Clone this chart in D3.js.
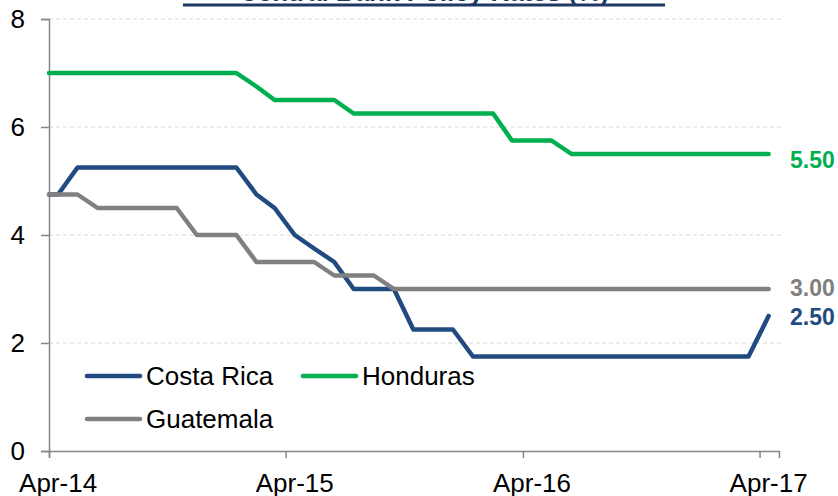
<!DOCTYPE html>
<html lang="en">

<head>
    <meta charset="UTF-8">
    <title>Central Bank Policy Rates</title>
    <style>
        body {
            margin: 0;
            background-color: #fff;
            font-family: Arial, 'Liberation Sans', sans-serif;
        }

        svg {
            display: block;
        }
    </style>
    <script src="https://d3js.org/d3.v7.min.js"></script>
</head>

<body>
    <div id="chart"></div>
    <script>
        // first point is the start of the axis, the rest are mid-month readings
        const dates = [
            "2014-04-01", "2014-04-15", "2014-05-15", "2014-06-15", "2014-07-15", "2014-08-15",
            "2014-09-15", "2014-10-15", "2014-11-15", "2014-12-15", "2015-01-15", "2015-02-15",
            "2015-03-15", "2015-04-15", "2015-05-15", "2015-06-15", "2015-07-15", "2015-08-15",
            "2015-09-15", "2015-10-15", "2015-11-15", "2015-12-15", "2016-01-15", "2016-02-15",
            "2016-03-15", "2016-04-15", "2016-05-15", "2016-06-15", "2016-07-15", "2016-08-15",
            "2016-09-15", "2016-10-15", "2016-11-15", "2016-12-15", "2017-01-15", "2017-02-15",
            "2017-03-15", "2017-04-15"
        ];

        const costaRica = [
            4.75, 4.75, 5.25, 5.25, 5.25, 5.25, 5.25, 5.25, 5.25, 5.25,
            5.25, 4.75, 4.5, 4.0, 3.75, 3.5, 3.0, 3.0, 3.0, 2.25,
            2.25, 2.25, 1.75, 1.75, 1.75, 1.75, 1.75, 1.75, 1.75, 1.75,
            1.75, 1.75, 1.75, 1.75, 1.75, 1.75, 1.75, 2.5
        ];

        const honduras = [
            7.0, 7.0, 7.0, 7.0, 7.0, 7.0, 7.0, 7.0, 7.0, 7.0,
            7.0, 6.75, 6.5, 6.5, 6.5, 6.5, 6.25, 6.25, 6.25, 6.25,
            6.25, 6.25, 6.25, 6.25, 5.75, 5.75, 5.75, 5.5, 5.5, 5.5,
            5.5, 5.5, 5.5, 5.5, 5.5, 5.5, 5.5, 5.5
        ];

        const guatemala = [
            4.75, 4.75, 4.75, 4.5, 4.5, 4.5, 4.5, 4.5, 4.0, 4.0,
            4.0, 3.5, 3.5, 3.5, 3.5, 3.25, 3.25, 3.25, 3.0, 3.0,
            3.0, 3.0, 3.0, 3.0, 3.0, 3.0, 3.0, 3.0, 3.0, 3.0,
            3.0, 3.0, 3.0, 3.0, 3.0, 3.0, 3.0, 3.0
        ];

        const seriesNames = ["Costa Rica", "Honduras", "Guatemala"];
        const seriesValues = [costaRica, honduras, guatemala];
        const seriesColors = ["#214B80", "#00B050", "#808080"];
        const endLabels = ["2.50", "5.50", "3.00"];

        const yTicks = [0, 2, 4, 6, 8];
        const xTickDates = ["2014-04-01", "2015-04-01", "2016-04-01", "2017-04-01"];
        const xTickLabels = ["Apr-14", "Apr-15", "Apr-16", "Apr-17"];

        const title = "Central Bank Policy Rates (%)";

        const width = 838;
        const height = 496;
        const parse = d3.timeParse("%Y-%m-%d");

        const x = d3.scaleTime()
            .domain([parse("2014-04-01"), parse("2017-05-01")])
            .range([49, 779]);

        const y = d3.scaleLinear()
            .domain([0, 8])
            .range([451, 19]);

        const svg = d3.select("#chart").append("svg")
            .attr("width", width)
            .attr("height", height)
            .style("font-family", "Arial, 'Liberation Sans', sans-serif");

        // title (mostly cut off at the top of the picture)
        svg.append("text")
            .attr("x", 424)
            .attr("y", 1)
            .attr("text-anchor", "middle")
            .attr("font-size", 26)
            .attr("font-weight", "bold")
            .attr("fill", "#1F3864")
            .text(title);

        svg.append("line")
            .attr("x1", 183)
            .attr("x2", 665)
            .attr("y1", 5)
            .attr("y2", 5)
            .attr("stroke", "#1F3864")
            .attr("stroke-width", 3);

        // gridlines
        svg.append("g")
            .selectAll("line")
            .data(yTicks.filter(d => d > 0))
            .join("line")
            .attr("x1", 49)
            .attr("x2", 783)
            .attr("y1", d => y(d))
            .attr("y2", d => y(d))
            .attr("stroke", "#D9D9D9")
            .attr("stroke-width", 1)
            .attr("stroke-dasharray", "4,3");

        // y axis
        const yAxis = svg.append("g")
            .attr("transform", "translate(49,0)")
            .call(d3.axisLeft(y).tickValues(yTicks).tickSize(8).tickPadding(16));

        yAxis.select(".domain").attr("stroke", "#868686").attr("stroke-width", 1.5);
        yAxis.selectAll(".tick line").attr("stroke", "#868686").attr("stroke-width", 1.5);
        yAxis.selectAll(".tick text")
            .attr("font-size", 26)
            .attr("fill", "#000")
            .style("font-family", "Arial, 'Liberation Sans', sans-serif");

        // x axis
        const xAxis = svg.append("g")
            .attr("transform", "translate(0,451)")
            .call(d3.axisBottom(x).tickValues(xTickDates.map(parse)).tickSize(7).tickFormat(""));

        xAxis.select(".domain").attr("stroke", "#868686").attr("stroke-width", 1.5);
        xAxis.selectAll(".tick line").attr("stroke", "#868686").attr("stroke-width", 1.5);

        svg.append("g")
            .selectAll("text")
            .data(xTickDates)
            .join("text")
            .attr("x", d => x(d3.timeDay.offset(parse(d), 14)))
            .attr("y", 492)
            .attr("text-anchor", "middle")
            .attr("font-size", 26)
            .attr("fill", "#000")
            .text((d, i) => xTickLabels[i]);

        // lines
        const line = d3.line()
            .x((d, i) => x(parse(dates[i])))
            .y(d => y(d));

        svg.append("g")
            .selectAll("path")
            .data(seriesValues)
            .join("path")
            .attr("d", line)
            .attr("fill", "none")
            .attr("stroke", (d, i) => seriesColors[i])
            .attr("stroke-width", 4.5)
            .attr("stroke-linejoin", "round")
            .attr("stroke-linecap", "round");

        // end labels, nudged so they do not collide
        const endOffsets = ["0.4em", "0.6em", "0.3em"];

        svg.append("g")
            .selectAll("text")
            .data(seriesValues)
            .join("text")
            .attr("x", 790)
            .attr("y", d => y(d[d.length - 1]))
            .attr("dy", (d, i) => endOffsets[i])
            .attr("font-size", 23)
            .attr("font-weight", "bold")
            .attr("fill", (d, i) => seriesColors[i])
            .text((d, i) => endLabels[i]);

        // legend
        const legendPos = [[87, 376], [303, 376], [87, 419]];

        const legend = svg.append("g")
            .selectAll("g")
            .data(seriesNames)
            .join("g")
            .attr("transform", (d, i) => `translate(${legendPos[i][0]},${legendPos[i][1]})`);

        legend.append("line")
            .attr("x1", 0)
            .attr("x2", 53)
            .attr("stroke", (d, i) => seriesColors[i])
            .attr("stroke-width", 4.5)
            .attr("stroke-linecap", "round");

        legend.append("text")
            .attr("x", 59)
            .attr("y", 9)
            .attr("font-size", 26)
            .attr("fill", "#000")
            .text(d => d);
    </script>
</body>

</html>
